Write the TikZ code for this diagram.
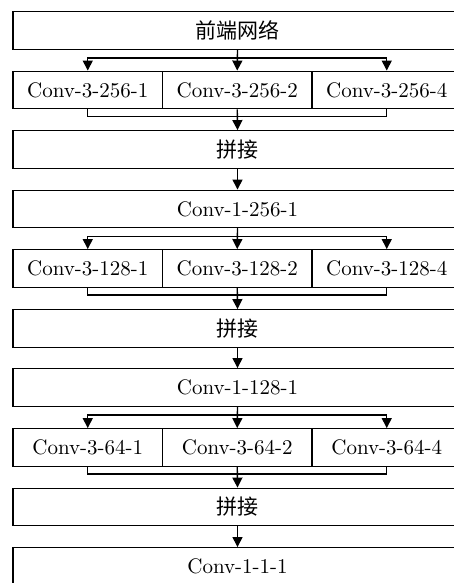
\documentclass[tikz,border=0pt]{standalone}
\usepackage{fontspec}
\newfontfamily\cjk{Noto Sans CJK SC}
\usetikzlibrary{arrows.meta}
\begin{document}
\begin{tikzpicture}[x=0.5pt,y=-0.5pt,
  line width=0.7pt,
  every node/.style={font=\fontsize{10.5}{12}\selectfont},
  wide/.style={draw,rectangle,inner sep=0pt,minimum width=224.5pt,minimum height=18.75pt},
  small/.style={draw,rectangle,inner sep=0pt,minimum width=74.75pt,minimum height=18.75pt},
  arr/.style={-{Triangle[length=5pt,width=5pt]}}]
\clip (0,0) rectangle (454,583);
\fill[white] (0,0) rectangle (454,583);
% nodes
\node[wide] (front) at (237.5,30.5) {\cjk 前端网络};
\node[small] (a1) at (87.75,90) {Conv-3-256-1};
\node[small] (a2) at (237.25,90) {Conv-3-256-2};
\node[small] (a3) at (386.75,90) {Conv-3-256-4};
\node[wide] (cat1) at (237.5,149.5) {\cjk 拼接};
\node[wide] (c1) at (237.5,209) {Conv-1-256-1};
\node[small] (b1) at (87.75,268.5) {Conv-3-128-1};
\node[small] (b2) at (237.25,268.5) {Conv-3-128-2};
\node[small] (b3) at (386.75,268.5) {Conv-3-128-4};
\node[wide] (cat2) at (237.5,328.5) {\cjk 拼接};
\node[wide] (c2) at (237.5,387.5) {Conv-1-128-1};
\node[small] (d1) at (87.75,447.5) {Conv-3-64-1};
\node[small] (d2) at (237.25,447.5) {Conv-3-64-2};
\node[small] (d3) at (386.75,447.5) {Conv-3-64-4};
\node[wide] (cat3) at (237.5,507) {\cjk 拼接};
\node[wide] (c3) at (237.5,566.5) {Conv-1-1-1};
% split 1
\draw[arr] (front.south) -- (a2.north);
\draw[arr] (front.south) -- ([yshift=-4pt]front.south) -| (a1.north);
\draw[arr] (front.south) -- ([yshift=-4pt]front.south) -| (a3.north);
\draw (a1.south) |- ([yshift=-3.5pt]a2.south) -| (a3.south);
\draw[arr] (a2.south) -- (cat1.north);
\draw[arr] (cat1.south) -- (c1.north);
% split 2
\draw[arr] (c1.south) -- (b2.north);
\draw[arr] (c1.south) -- ([yshift=-4pt]c1.south) -| (b1.north);
\draw[arr] (c1.south) -- ([yshift=-4pt]c1.south) -| (b3.north);
\draw (b1.south) |- ([yshift=-3.5pt]b2.south) -| (b3.south);
\draw[arr] (b2.south) -- (cat2.north);
\draw[arr] (cat2.south) -- (c2.north);
% split 3
\draw[arr] (c2.south) -- (d2.north);
\draw[arr] (c2.south) -- ([yshift=-4pt]c2.south) -| (d1.north);
\draw[arr] (c2.south) -- ([yshift=-4pt]c2.south) -| (d3.north);
\draw (d1.south) |- ([yshift=-3.5pt]d2.south) -| (d3.south);
\draw[arr] (d2.south) -- (cat3.north);
\draw[arr] (cat3.south) -- (c3.north);
\end{tikzpicture}
\end{document}
